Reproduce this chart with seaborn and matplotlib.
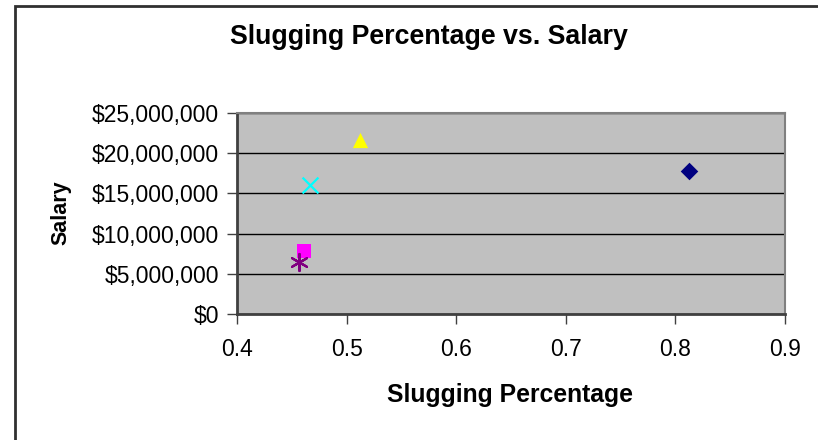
import matplotlib
matplotlib.use("Agg")
import matplotlib.pyplot as plt
import matplotlib.ticker as mticker
import pandas as pd
import seaborn as sns
from matplotlib.patches import Rectangle

# values
players = ["P1", "P2", "P3", "P4", "P5"]
slugging = [0.812, 0.461, 0.512, 0.467, 0.457]
salary = [17_800_000, 7_800_000, 21_600_000, 16_100_000, 6_500_000]
markers = ["D", "s", "^", "x", (6, 2, 0)]
colors = ["#000080", "#FF00FF", "#FFFF00", "#00FFFF", "#800080"]
sizes = [80, 90, 120, 130, 150]

df = pd.DataFrame({"player": players, "slugging": slugging, "salary": salary})

sns.set_style("white")
plt.rcParams["font.family"] = ["Liberation Sans", "DejaVu Sans"]
plt.rcParams["text.color"] = "black"

fig = plt.figure(figsize=(8.18, 4.4), dpi=100)
ax = fig.add_axes([237 / 818, 1 - 314 / 440, (785 - 237) / 818, (314 - 113) / 440])
ax.set_facecolor("#C0C0C0")

for i in range(len(df)):
    line_marker = markers[i] == "x" or isinstance(markers[i], tuple)
    sns.scatterplot(
        data=df.iloc[[i]], x="slugging", y="salary", ax=ax,
        marker=markers[i], color=colors[i], s=sizes[i],
        linewidth=1.6 if line_marker else 0,
        edgecolor=colors[i], zorder=3, legend=False,
    )

ax.set_xlim(0.4, 0.9)
ax.set_ylim(0, 25_000_000)
ax.xaxis.set_major_locator(mticker.MultipleLocator(0.1))
ax.yaxis.set_major_locator(mticker.MultipleLocator(5_000_000))
ax.yaxis.set_major_formatter(mticker.FuncFormatter(lambda v, p: f"${v:,.0f}"))
ax.xaxis.set_major_formatter(mticker.FuncFormatter(lambda v, p: f"{v:.1f}"))
ax.grid(axis="y", color="black", linewidth=1)
ax.grid(axis="x", visible=False)
ax.set_axisbelow(True)

for side in ax.spines.values():
    side.set_color("#808080")
    side.set_linewidth(1.5)
ax.spines["left"].set_color("#404040")
ax.spines["bottom"].set_color("#404040")
ax.spines["left"].set_linewidth(2)
ax.spines["bottom"].set_linewidth(2)

ax.tick_params(axis="both", direction="out", length=7, width=1, color="#404040",
               labelsize=16.5, labelcolor="black", left=True, bottom=True)
ax.tick_params(axis="x", pad=10)
ax.tick_params(axis="y", pad=6)

ax.set_xlabel("")
ax.set_ylabel("")
fig.text(429 / 818, 1 - 37 / 440, "Slugging Percentage vs. Salary",
         fontsize=19.3, fontweight="bold", ha="center", va="center", color="black")
fig.text(510 / 818, 1 - 395 / 440, "Slugging Percentage",
         fontsize=17.8, fontweight="bold", ha="center", va="center", color="black")
fig.text(61 / 818, 1 - 213 / 440, "Salary", rotation=90,
         fontsize=15.5, fontweight="bold", ha="center", va="center", color="black")

fig.patches.append(Rectangle((15 / 818, -0.1), 1.2, 1 - 6 / 440 + 0.1,
                             transform=fig.transFigure, fill=False,
                             edgecolor="#303030", linewidth=2))

fig.savefig("out.png", dpi=100)
